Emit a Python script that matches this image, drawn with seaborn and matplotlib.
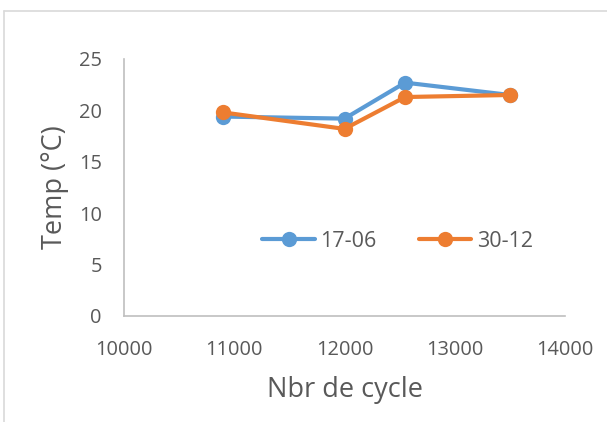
import numpy as np
import pandas as pd
import matplotlib
matplotlib.use("Agg")
import matplotlib.pyplot as plt
import seaborn as sns
from matplotlib.lines import Line2D

# Cycle counts and temperatures for the two measurement campaigns
cycles = [10900, 12000, 12550, 13500]
temp_17_06 = [19.4, 19.2, 22.7, 21.5]
temp_30_12 = [19.8, 18.2, 21.3, 21.5]
series_names = ["17-06", "30-12"]
x_ticks = [10000, 11000, 12000, 13000, 14000]
y_ticks = [0, 5, 10, 15, 20, 25]

df = pd.DataFrame({
    "cycle": cycles * 2,
    "temp": temp_17_06 + temp_30_12,
    "serie": [series_names[0]] * len(cycles) + [series_names[1]] * len(cycles),
})

sns.set_theme(style="white")
plt.rcParams["font.family"] = ["Open Sans", "DejaVu Sans"]

text_color = "#595959"
palette = {"17-06": "#5B9BD5", "30-12": "#ED7D31"}

fig = plt.figure(figsize=(6.07, 4.22), dpi=100)
ax = fig.add_axes([0.2043, 0.2512, 0.7265, 0.609])

sns.lineplot(data=df, x="cycle", y="temp", hue="serie", palette=palette,
             marker="o", markersize=11, markeredgewidth=0, linewidth=3,
             ax=ax, legend=False, sort=False)

ax.set_xlim(10000, 14000)
ax.set_ylim(0, 25)
ax.set_xticks(x_ticks)
ax.set_yticks(y_ticks)
ax.tick_params(axis="both", length=0, labelsize=14.4, labelcolor=text_color)
ax.tick_params(axis="y", pad=16)
ax.tick_params(axis="x", pad=17)

for side in ["top", "right"]:
    ax.spines[side].set_visible(False)
for side in ["left", "bottom"]:
    ax.spines[side].set_color("#BFBFBF")
    ax.spines[side].set_linewidth(1.2)

ax.set_xlabel("Nbr de cycle", fontsize=19.5, color=text_color, labelpad=12)
ax.set_ylabel("Temp (°C)", fontsize=19.5, color=text_color, labelpad=7)

handles = [Line2D([], [], color=palette[n], marker="o", markersize=11,
                  markeredgewidth=0, linewidth=3) for n in series_names]
ax.legend(handles, series_names, loc="center", bbox_to_anchor=(0.62, 0.29),
          ncol=2, frameon=False, fontsize=15.5, handlelength=2.45,
          handletextpad=0.25, columnspacing=1.95, labelcolor=text_color)

# Chart-area border (top and left edges visible)
border_color = "#D9D9D9"
fig.add_artist(Line2D([4 / 607, 4 / 607], [0, 1 - 11 / 422], color=border_color,
                      linewidth=1.2, transform=fig.transFigure))
fig.add_artist(Line2D([4 / 607, 1], [1 - 11 / 422, 1 - 11 / 422], color=border_color,
                      linewidth=1.2, transform=fig.transFigure))

fig.savefig("out.png", dpi=100)
